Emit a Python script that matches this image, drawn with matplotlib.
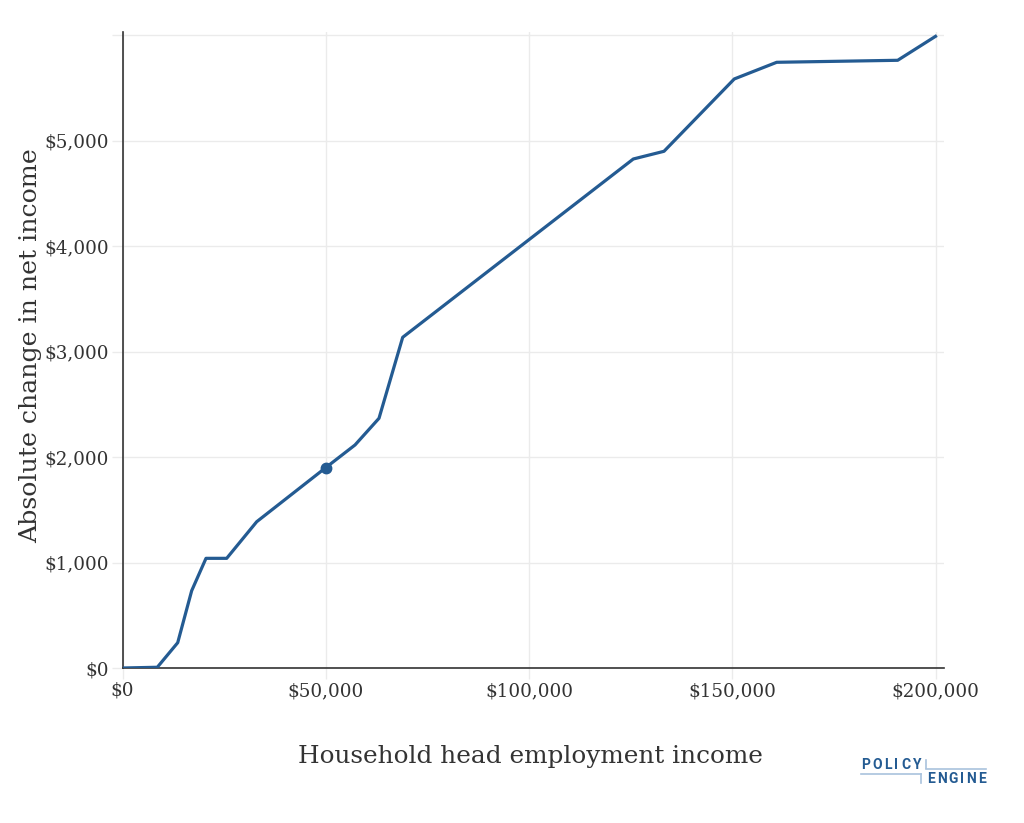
import matplotlib.pyplot as plt
from matplotlib.lines import Line2D
from matplotlib.ticker import FuncFormatter

# household head employment income vs absolute change in net income
income = [0, 8560, 13580, 17020, 20540, 25630, 33010, 50000, 57200, 63100,
          68930, 125660, 133210, 150500, 160930, 190700, 200000]
change = [0, 7, 240, 733, 1040, 1040, 1387, 1900, 2115, 2368,
          3136, 4827, 4900, 5586, 5744, 5763, 5990]
marker_x = [50000]
marker_y = [1900]

xticks = [0, 50000, 100000, 150000, 200000]
yticks = [0, 1000, 2000, 3000, 4000, 5000, 6000]

blue = '#245b92'
serif = ['DejaVu Serif']

fig = plt.figure(figsize=(10.24, 8.23), dpi=100)
W, H = 1024, 823
ax = fig.add_axes([122.5 / W, 1 - 668 / H, (944 - 122.5) / W, (668 - 32) / H])

ax.plot(income, change, color=blue, lw=2.3, solid_joinstyle='round', zorder=3)
ax.plot(marker_x, marker_y, 'o', color=blue, ms=7.5, zorder=4)

ax.set_xlim(0, 200000 + (944 - 935.5) / 4.065 * 1000)
ax.set_ylim(0, (668 - 32) / 0.10545)

ax.set_xticks(xticks)
ax.set_yticks(yticks)
ax.xaxis.set_major_formatter(FuncFormatter(lambda v, p: '${:,.0f}'.format(v)))
ax.yaxis.set_major_formatter(FuncFormatter(lambda v, p: '' if v >= 6000 else '${:,.0f}'.format(v)))
ax.grid(True, color='#ebebeb', lw=1.0, zorder=0)
ax.tick_params(axis='both', length=8, width=1, color='#ebebeb', labelsize=13.2,
               labelcolor='#333333', pad=2)
for lab in ax.get_xticklabels() + ax.get_yticklabels():
    lab.set_family(serif)

for s in ['top', 'right']:
    ax.spines[s].set_visible(False)
ax.spines['left'].set_color('#333333')
ax.spines['bottom'].set_color('#333333')
ax.spines['left'].set_linewidth(1.2)
ax.spines['bottom'].set_linewidth(1.2)

fig.text(530 / W, 1 - 757 / H, 'Household head employment income', ha='center', va='center',
         fontsize=17.8, color='#333333', family=serif)
fig.text(31 / W, 1 - 346 / H, 'Absolute change in net income', ha='center', va='center',
         rotation=90, fontsize=18.2, color='#333333', family=serif)

# logo: letters spread to fill a fixed pixel span
light = '#a9c2dd'
renderer = fig.canvas.get_renderer()


def spaced(word, x0, x1, yc):
    txts = [fig.text(0, 1 - yc / H, ch, fontsize=10, fontweight='semibold', color=blue,
                     va='center', ha='left', family=['Roboto', 'DejaVu Sans']) for ch in word]
    widths = [t.get_window_extent(renderer).width for t in txts]
    gap = (x1 - x0 - sum(widths)) / (len(word) - 1)
    x = x0
    for t, w in zip(txts, widths):
        t.set_x(x / W)
        x += w + gap


spaced('POLICY', 861, 921, 765)
spaced('ENGINE', 927, 986, 779)
for (x0, y0, x1, y1) in [(926, 760, 926, 768), (926, 768.5, 986, 768.5),
                         (861, 774, 921, 774), (921, 774, 921, 783)]:
    fig.add_artist(Line2D([x0 / W, x1 / W], [1 - y0 / H, 1 - y1 / H], color=light, lw=1.2))

fig.savefig('out.png', dpi=100)
